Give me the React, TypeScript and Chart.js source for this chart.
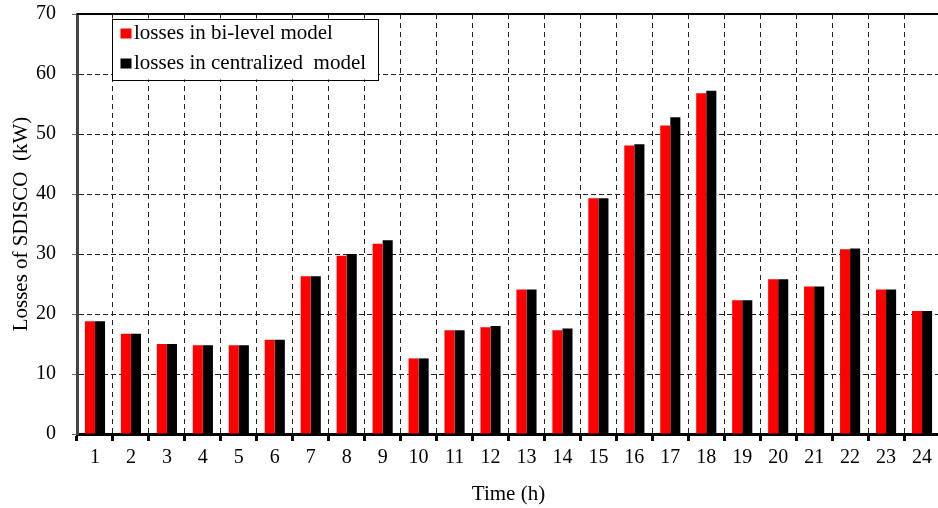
import React, { useEffect, useRef } from "react";
import { Chart, registerables } from "chart.js";

Chart.register(...registerables);

// Hourly network losses (kW)
const hours = ["1","2","3","4","5","6","7","8","9","10","11","12","13","14","15","16","17","18","19","20","21","22","23","24"];
const bilevelLosses = [18.8, 16.7, 15.0, 14.8, 14.8, 15.7, 26.3, 29.7, 31.7, 12.6, 17.3, 17.8, 24.1, 17.3, 39.3, 48.1, 51.4, 56.8, 22.3, 25.8, 24.6, 30.8, 24.1, 20.5];
const centralizedLosses = [18.8, 16.7, 15.0, 14.8, 14.8, 15.7, 26.3, 30.0, 32.3, 12.6, 17.3, 18.0, 24.1, 17.6, 39.3, 48.3, 52.8, 57.2, 22.3, 25.8, 24.6, 30.9, 24.1, 20.5];
const seriesLabels = ["losses in bi-level model", "losses in centralized  model"];
const seriesColors = ["#ff0000", "#000000"];

const FONT = "'Liberation Serif', 'Times New Roman', serif";

// Boxed legend in the upper-left corner of the plot, plus the solid top frame line
const framePlugin = {
  id: "frameAndLegend",
  afterDraw(chart: any) {
    const { ctx, chartArea } = chart;
    ctx.save();
    // solid top border
    ctx.strokeStyle = "#000";
    ctx.lineWidth = 2;
    ctx.beginPath();
    ctx.moveTo(chartArea.left, chartArea.top);
    ctx.lineTo(chartArea.right, chartArea.top);
    ctx.stroke();

    // legend box
    const bx = chartArea.left + 35;
    const by = chartArea.top + 4.5;
    const bw = 266;
    const bh = 61;
    ctx.fillStyle = "#fff";
    ctx.fillRect(bx, by, bw, bh);
    ctx.strokeStyle = "#000";
    ctx.lineWidth = 1;
    ctx.strokeRect(Math.round(bx) + 0.5, Math.round(by) + 0.5, bw, bh);

    ctx.font = `21px ${FONT}`;
    ctx.textBaseline = "middle";
    ctx.textAlign = "left";
    const rows = [by + 15, by + 45];
    chart.data.datasets.forEach((ds: any, i: number) => {
      ctx.fillStyle = ds.backgroundColor;
      ctx.fillRect(bx + 8.5, rows[i] - 5, 11, 10);
      ctx.fillStyle = "#000";
      ctx.fillText(ds.label, bx + 22, rows[i]);
    });
    ctx.restore();
  },
};

export default function App() {
  const ref = useRef<HTMLCanvasElement>(null);

  useEffect(() => {
    if (!ref.current) return;
    const chart = new Chart(ref.current, {
      type: "bar",
      data: {
        labels: hours,
        datasets: [
          {
            label: seriesLabels[0],
            data: bilevelLosses,
            backgroundColor: seriesColors[0],
            borderWidth: 0,
            categoryPercentage: 0.56,
            barPercentage: 1.0,
          },
          {
            label: seriesLabels[1],
            data: centralizedLosses,
            backgroundColor: seriesColors[1],
            borderWidth: 0,
            categoryPercentage: 0.56,
            barPercentage: 1.0,
          },
        ],
      },
      options: {
        responsive: false,
        animation: false,
        devicePixelRatio: 1,
        layout: { padding: { top: 14, right: 4, left: 0, bottom: 0 } },
        plugins: {
          legend: { display: false },
          tooltip: { enabled: false },
        },
        scales: {
          x: {
            offset: true,
            grid: {
              offset: true,
              color: "#222",
              lineWidth: 1,
              tickColor: "#000",
              tickWidth: 3,
              tickLength: 7,
              drawOnChartArea: true,
            },
            border: { display: true, color: "#000", width: 3, dash: [5, 4] },
            ticks: {
              color: "#000",
              font: { family: FONT, size: 20 },
              padding: 5,
              maxRotation: 0,
              autoSkip: false,
            },
            title: {
              display: true,
              text: "Time (h)",
              color: "#000",
              font: { family: FONT, size: 21 },
              padding: { top: 0, bottom: 1 },
            },
            afterFit(scale: any) {
              scale.height = 74;
              scale.paddingLeft = 0;
              scale.paddingRight = 0;
            },
          },
          y: {
            min: 0,
            max: 70,
            ticks: {
              stepSize: 10,
              color: "#000",
              font: { family: FONT, size: 20 },
              padding: 16,
            },
            grid: {
              color: "#222",
              lineWidth: 1,
              tickColor: "#666",
              tickLength: 5,
            },
            border: { display: true, color: "#444", width: 3, dash: [5, 3] },
            title: {
              display: true,
              text: "Losses of SDISCO  (kW)",
              color: "#000",
              font: { family: FONT, size: 21 },
              padding: { top: 9, bottom: 0 },
            },
            afterFit(scale: any) {
              scale.width = 77;
              scale.paddingTop = 0;
              scale.paddingBottom = 0;
            },
          },
        },
      },
      plugins: [framePlugin],
    });
    return () => chart.destroy();
  }, []);

  return (
    <div
      style={{
        position: "fixed",
        left: 0,
        top: 0,
        width: 938,
        height: 508,
        overflow: "hidden",
        background: "#fff",
      }}
    >
      <canvas ref={ref} width={944} height={508} style={{ width: 944, height: 508, display: "block" }} />
    </div>
  );
}
